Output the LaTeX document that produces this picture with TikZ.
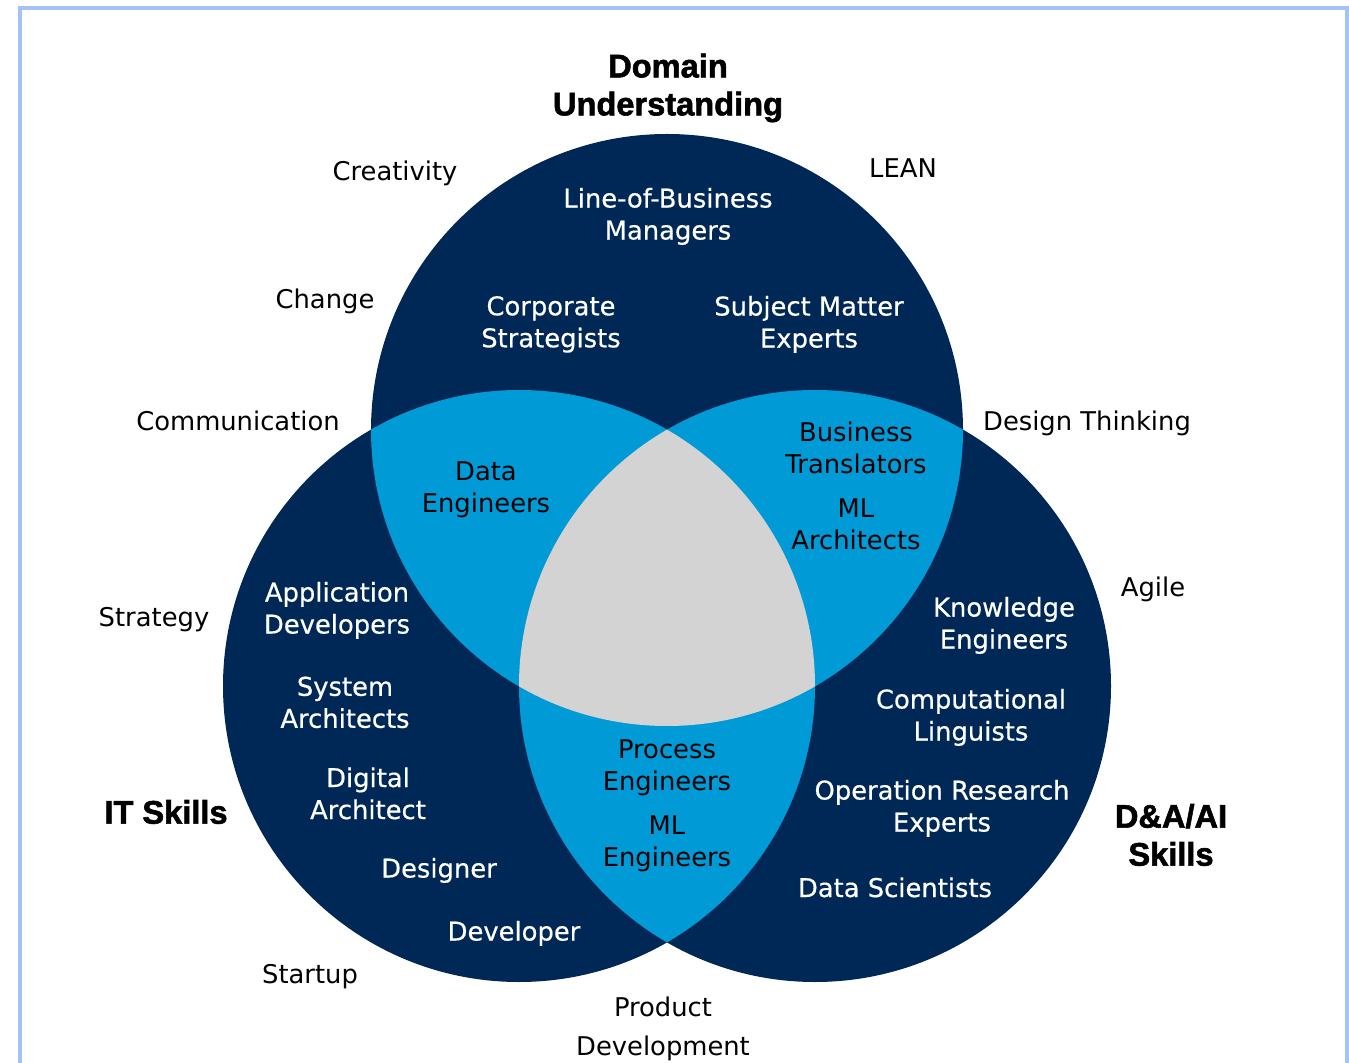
\documentclass[tikz,border=0pt]{standalone}
\usepackage{fontspec}
\setmainfont{DejaVu Sans}
\newfontfamily\headfont[BoldFeatures={FakeBold=1.8}]{Liberation Sans}
\newfontfamily\medfont[FakeBold=0.5]{DejaVu Sans}
\usepackage{tikz}
\usetikzlibrary{positioning}
\definecolor{navy}{RGB}{0,40,86}
\definecolor{sky}{RGB}{0,155,215}
\definecolor{core}{RGB}{211,211,211}
\definecolor{frameblue}{RGB}{164,194,244}
\tikzset{role/.style = {align=center, text=white, yshift=-1.2pt, font=\medfont\fontsize{12.9}{16}\selectfont},
         shared/.style = {align=center, text=black, yshift=-1.2pt, font=\fontsize{12.9}{16}\selectfont},
         trait/.style = {align=center, text=black, yshift=-1.2pt, font=\fontsize{12.9}{19.5}\selectfont},
         area/.style = {align=center, text=black, yshift=-1.5pt, font=\headfont\bfseries\fontsize{16.3}{19}\selectfont}}

\begin{document}
\begin{tikzpicture}[x=0.5pt, y=-0.5pt]
    \useasboundingbox (0, 0) rectangle (1349, 1063);
    \draw [frameblue, line width=1.8pt] (20, 1070) |- (1347, 8) -- (1347, 1070);
    \coordinate (top) at (667, 430);
    \coordinate (left) at (519, 686);
    \coordinate (right) at (815, 686);
    \fill [navy] (top) circle [radius=148pt];
    \fill [navy] (left) circle [radius=148pt];
    \fill [navy] (right) circle [radius=148pt];
    \begin{scope}
      \clip (top) circle [radius=148pt];
      \fill [sky] (left) circle [radius=148pt];
      \fill [sky] (right) circle [radius=148pt];
    \end{scope}
    \begin{scope}
      \clip (left) circle [radius=148pt];
      \fill [sky] (right) circle [radius=148pt];
    \end{scope}
    \begin{scope}
      \clip (top) circle [radius=148pt];
      \clip (left) circle [radius=148pt];
      \fill [core] (right) circle [radius=148pt];
    \end{scope}
    % skill areas
    \node (domain) at (668, 85) [area] {Domain\\Understanding};
    \node (it) at (166, 809) [area] {IT Skills};
    \node (dai) at (1171, 832) [area] {D\&A/AI\\Skills};
    % traits round the outside
    \node (creativity) at (395, 171) [trait] {Creativity};
    \node (lean) at (903, 166) [trait] {LEAN};
    \node (change) at (325, 299) [trait] {Change};
    \node (communication) at (238, 418) [trait] {Communication};
    \node (design) at (1087, 421) [trait] {Design Thinking};
    \node (agile) at (1153, 587) [trait] {Agile};
    \node (strategy) at (154, 617) [trait] {Strategy};
    \node (startup) at (310, 974) [trait] {Startup};
    \node (product) at (663, 1026) [trait] {Product\\Development};
    % roles
    \node (lob) at (668, 214) [role] {Line-of-Business\\Managers};
    \node (corp) at (551, 322) [role] {Corporate\\Strategists};
    \node (sme) at (809, 322) [role] {Subject Matter\\Experts};
    \node (appdev) at (337, 608) [role] {Application\\Developers};
    \node (sysarch) at (345, 700) [role] {System\\Architects};
    \node (digarch) at (368, 791) [role] {Digital\\Architect};
    \node (designer) at (439, 868) [role] {Designer};
    \node (developer) at (514, 931) [role] {Developer};
    \node (knowledge) at (1004, 623) [role] {Knowledge\\Engineers};
    \node (linguists) at (971, 715) [role] {Computational\\Linguists};
    \node (opres) at (942, 806) [role] {Operation Research\\Experts};
    \node (scientists) at (895, 885) [role] {Data Scientists};
    % shared roles
    \node (dataeng) at (486, 487) [shared] {Data\\Engineers};
    \node (translators) at (856, 445) [shared] {Business\\Translators};
    \node (mlarch) at (856, 522) [shared] {ML\\Architects};
    \node (process) at (667, 765) [shared] {Process\\Engineers};
    \node (mleng) at (667, 841) [shared] {ML\\Engineers};
  \end{tikzpicture}
\end{document}
